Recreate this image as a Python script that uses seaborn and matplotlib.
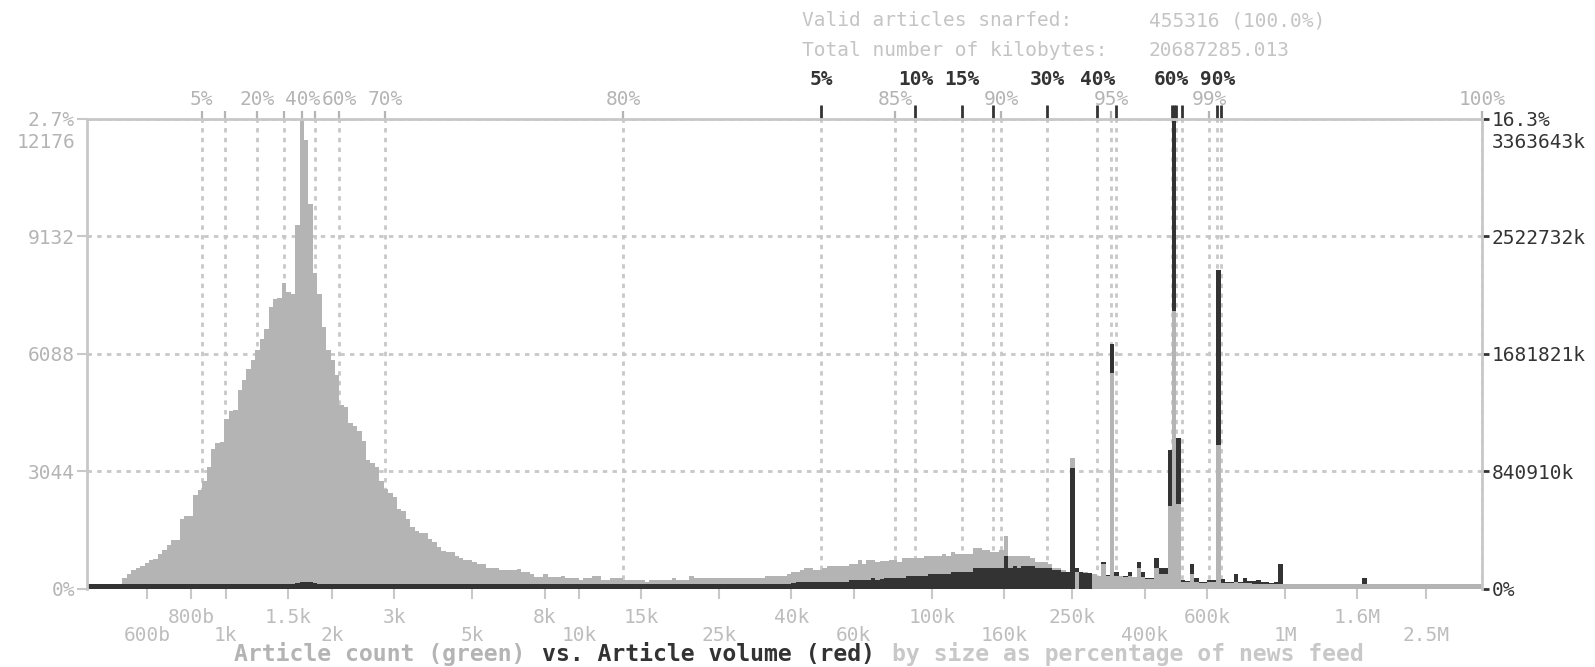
import numpy as np
import pandas as pd
import matplotlib
matplotlib.use("Agg")
import matplotlib.pyplot as plt
import matplotlib.transforms as mtransforms
from matplotlib.ticker import NullLocator
import seaborn as sns

# ---------------- data ----------------
SIZE_MIN = 405          # bytes, lower edge of first size bin
SIZE_MAX = 3610000      # bytes, upper edge of last size bin (largest article)
COUNT_MAX = 12176       # articles in the fullest bin (2.7%)
VOLUME_MAX_KB = 3363643 # kilobytes in the fullest bin (16.3%)
TOTAL_ARTICLES = "455316 (100.0%)"
TOTAL_KB = "20687285.013"

COUNT_TICKS = [0, 3044, 6088, 9132, 12176]
COUNT_TICK_LABELS = ['0%', '3044', '6088', '9132', '2.7%']
VOLUME_TICKS = [0, 840910, 1681821, 2522732, 3363643]
VOLUME_TICK_LABELS = ['0%', '840910k', '1681821k', '2522732k', '16.3%']

X_TICKS = [600, 800, 1000, 1500, 2000, 3000, 5000, 8000, 10000, 15000, 25000,
           40000, 60000, 100000, 160000, 250000, 400000, 600000, 1000000,
           1600000, 2500000]
X_TICK_LABELS = ['600b', '800b', '1k', '1.5k', '2k', '3k', '5k', '8k', '10k',
                 '15k', '25k', '40k', '60k', '100k', '160k', '250k', '400k',
                 '600k', '1M', '1.6M', '2.5M']

# percentiles of article count (grey) - size in bytes
COUNT_PCT_SIZES = [855, 998, 1229, 1460, 1647, 1795, 2100, 2835, 13350, 78780,
                   157200, 321600, 610200, 3610000]
COUNT_PCT_LABELS = ['5%', '', '20%', '', '40%', '', '60%', '70%', '80%', '85%',
                    '90%', '95%', '99%', '100%']
# percentiles of article volume (dark) - size in bytes
VOLUME_PCT_SIZES = [48640, 89770, 121450, 149200, 212200, 293900, 331500,
                    477500, 484600, 490000, 509500, 642700, 657200]
VOLUME_PCT_LABELS = ['5%', '10%', '15%', '', '30%', '40%', '', '60%', '', '',
                     '', '90%', '']

# article count per size bin
GREY = [
    0, 0, 0, 0, 0, 0, 0, 0, 290, 380,
    480, 540, 590, 660, 740, 780, 900, 1000, 1120, 1260,
    1250, 1800, 1880, 1890, 2420, 2560, 2800, 3160, 3620, 3780,
    3790, 4400, 4610, 4620, 5160, 5420, 5700, 5940, 6200, 6480,
    6740, 7310, 7520, 7530, 7930, 7680, 7640, 9440, 12176, 11630,
    9960, 8190, 7640, 6790, 6180, 5940, 5540, 4760, 4700, 4290,
    4210, 4080, 3820, 3340, 3250, 3150, 2800, 2580, 2470, 2370,
    2060, 2010, 1800, 1590, 1500, 1450, 1440, 1280, 1220, 1090,
    990, 950, 950, 850, 790, 745, 745, 700, 640, 640,
    540, 540, 535, 485, 485, 485, 480, 500, 425, 425,
    375, 295, 295, 375, 295, 295, 295, 330, 276, 276,
    276, 224, 276, 276, 330, 330, 224, 224, 276, 276,
    276, 224, 224, 224, 224, 224, 172, 224, 224, 224,
    224, 224, 276, 224, 224, 224, 330, 276, 276, 276,
    276, 276, 276, 276, 276, 276, 276, 276, 276, 276,
    276, 276, 276, 330, 330, 330, 320, 330, 380, 435,
    435, 485, 540, 540, 485, 485, 540, 590, 590, 590,
    590, 590, 640, 640, 745, 640, 745, 745, 695, 710,
    710, 745, 745, 695, 800, 800, 800, 800, 800, 850,
    850, 850, 850, 900, 850, 955, 900, 900, 900, 900,
    1060, 1060, 1005, 1005, 955, 955, 1005, 1370, 850, 850,
    850, 850, 850, 800, 695, 695, 695, 640, 540, 540,
    485, 435, 3400, 435, 435, 420, 400, 380, 330, 640,
    330, 5590, 330, 320, 310, 330, 300, 540, 300, 260,
    260, 540, 380, 380, 2150, 7210, 2200, 180, 180, 380,
    170, 140, 140, 170, 170, 3720, 140, 140, 140, 170,
    140, 140, 140, 120, 120, 120, 110, 110, 110, 120,
    90, 70, 60, 75, 70, 55, 70, 80, 65, 70,
    60, 70, 75, 60, 70, 65, 70, 80, 100, 60,
    70, 65, 75, 70, 60, 70, 70, 65, 60, 70,
    75, 70, 60, 65, 70, 70, 60, 75, 70, 65,
    60, 70, 70, 65, 60,
]

# article volume (kilobytes) per size bin
DARK_KB = [
    0, 0, 0, 0, 0, 0, 0, 0, 400, 600,
    800, 1000, 1200, 1400, 1700, 1900, 2300, 2700, 3100, 3600,
    3700, 5000, 5500, 6000, 7500, 8500, 9500, 11000, 13000, 14000,
    15000, 17000, 18500, 19500, 22000, 23500, 25000, 26500, 28000, 29500,
    30500, 31000, 31500, 32000, 32500, 32500, 33000, 40000, 48000, 48000,
    46000, 40000, 32000, 31000, 30000, 29500, 29000, 27000, 27000, 26000,
    26000, 25500, 25000, 23000, 23000, 22500, 21000, 20000, 19500, 19500,
    17500, 17500, 16000, 15000, 14500, 14500, 14500, 13500, 13000, 12000,
    11500, 11500, 11500, 10500, 10000, 10000, 10000, 10000, 9500, 9500,
    8500, 8500, 8500, 8000, 8000, 8500, 8500, 9000, 8000, 8000,
    7500, 6500, 6500, 8000, 7000, 7000, 7000, 8000, 7000, 7000,
    7000, 6000, 7500, 7500, 9000, 9500, 6500, 6500, 8500, 8500,
    9000, 7500, 7500, 7500, 8000, 8000, 6000, 9000, 9000, 9500,
    9500, 10000, 13000, 10500, 11000, 11000, 17000, 14500, 15000, 15500,
    16000, 16500, 17000, 17500, 18000, 18500, 19000, 19500, 20000, 21000,
    22000, 23000, 24000, 27000, 28000, 29000, 30000, 31000, 32000, 38000,
    48000, 48000, 48000, 48000, 48000, 48000, 48000, 48000, 48000, 48000,
    48000, 48000, 62300, 62300, 62300, 62300, 62300, 76600, 62300, 70000,
    76600, 76600, 76600, 76600, 76600, 90900, 90900, 90900, 90900, 90900,
    105300, 105300, 105300, 105300, 105300, 119600, 119600, 119600, 119600, 119600,
    148200, 148200, 148200, 148200, 148200, 148200, 148200, 234200, 148200, 162600,
    148200, 162600, 162600, 162600, 148200, 148200, 148200, 148200, 133900, 133900,
    119600, 119600, 864300, 148200, 119600, 115000, 110000, 106000, 93100, 189000,
    96700, 1752000, 119600, 91000, 91000, 119600, 86000, 191200, 119600, 76600,
    76600, 219800, 148200, 148200, 993000, 3363643, 1079000, 62300, 57300, 176900,
    76600, 45800, 45800, 62300, 62300, 2284000, 67300, 46500, 46500, 105300,
    46500, 76600, 57300, 57300, 64400, 50100, 46500, 43000, 50100, 176900,
    35800, 25000, 22000, 27000, 25000, 20000, 25000, 30000, 24000, 25000,
    22000, 25000, 28000, 22000, 25000, 24000, 25000, 30000, 74500, 22000,
    25000, 24000, 28000, 25000, 22000, 25000, 26000, 24000, 22000, 25000,
    28000, 25000, 22000, 24000, 25000, 26000, 22000, 28000, 25000, 24000,
    22000, 25000, 26000, 24000, 22000,
]

# ---------------- style ----------------
GREY_C = '#b4b4b4'
DARK_C = '#333333'
AXIS_C = '#c8c8c8'
GRID_C = '#c8c8c8'
LEFT_LBL_C = '#b4b4b4'
BOTTOM_LBL_C = '#bdbdbd'
HEADER_C = '#c4c4c4'

sns.set_theme(style="white")
plt.rcParams['font.family'] = ['DejaVu Sans Mono', 'DejaVu Sans']

W_PX, H_PX = 1595, 667
fig = plt.figure(figsize=(W_PX / 100, H_PX / 100), dpi=100)

def fx(px):
    return px / W_PX

def fy(py):
    return 1 - py / H_PX

AX_L, AX_R, AX_T, AX_B = 87, 1482, 119, 588.7
ax = fig.add_axes([fx(AX_L), fy(AX_B), fx(AX_R) - fx(AX_L), fy(AX_T) - fy(AX_B)])
ax2 = ax.twinx()
ax3 = ax.twinx()
AX_HPX = AX_B - AX_T

# ---------------- bars ----------------
n = len(GREY)
log_range = (np.log10(SIZE_MIN), np.log10(SIZE_MAX))
edges = np.logspace(log_range[0], log_range[1], n + 1)
centers = np.sqrt(edges[:-1] * edges[1:])
grey = np.asarray(GREY, float)
dark = np.asarray(DARK_KB, float)

# per bin: the taller bar (relative to its own axis) is drawn behind the shorter one
grey_front = (grey / COUNT_MAX) < (dark / VOLUME_MAX_KB)
floor = 0.01  # minimum bar height, fraction of axis height
g_h = np.maximum(grey, floor * COUNT_MAX)
d_h = np.maximum(dark, floor * VOLUME_MAX_KB)

df = pd.DataFrame({
    'size': centers,
    'grey_back': np.where(grey_front, 0.0, g_h),
    'grey_front': np.where(grey_front, g_h, 0.0),
    'dark': d_h,
})

common = dict(bins=n, binrange=log_range, log_scale=True, element='bars', fill=True,
              linewidth=0, alpha=1, stat='count', antialiased=False)
sns.histplot(data=df, x='size', weights='grey_back', ax=ax, color=GREY_C, **common)
sns.histplot(data=df, x='size', weights='dark', ax=ax2, color=DARK_C, **common)
sns.histplot(data=df, x='size', weights='grey_front', ax=ax3, color=GREY_C, **common)

for a in (ax, ax2, ax3):
    a.set_xlim(SIZE_MIN, SIZE_MAX)
    a.set_xlabel('')
    a.set_ylabel('')
ax.set_ylim(0, COUNT_MAX)
ax3.set_ylim(0, COUNT_MAX)
ax2.set_ylim(0, VOLUME_MAX_KB)

# ---------------- grid ----------------
ax.set_axisbelow(True)
dash = (0, (1.6, 1.9))
ax.set_yticks(COUNT_TICKS, COUNT_TICK_LABELS)
ax.grid(axis='y', color=GRID_C, linestyle=dash, linewidth=2)
ax.grid(axis='x', visible=False)
for s in COUNT_PCT_SIZES + VOLUME_PCT_SIZES:
    ax.axvline(s, color=GRID_C, linestyle=dash, linewidth=2, zorder=0.4)

# ---------------- axes / ticks ----------------
for a in (ax, ax2):
    for sp in a.spines.values():
        sp.set_visible(False)
for name, sp in ax3.spines.items():
    sp.set_visible(name != 'bottom')
    sp.set_color(AXIS_C)
    sp.set_linewidth(2)
ax3.yaxis.set_visible(False)

ax.tick_params(axis='y', which='both', left=True, right=False, length=7.2, width=1.5,
               color=AXIS_C, labelcolor=LEFT_LBL_C, labelsize=14, pad=1.5)
ax.set_xticks(X_TICKS, [('' if i % 2 else '\n') + lbl for i, lbl in enumerate(X_TICK_LABELS)])
ax.xaxis.set_minor_locator(NullLocator())
ax.tick_params(axis='x', which='major', bottom=True, length=7.2, width=1.5,
               color=AXIS_C, labelcolor=BOTTOM_LBL_C, labelsize=14, pad=6.5)
for lbl in ax.get_xticklabels():
    lbl.set_linespacing(0.92)

ax2.set_yticks(VOLUME_TICKS, VOLUME_TICK_LABELS)
ax2.tick_params(axis='y', right=True, left=False, length=5, width=2,
                color=DARK_C, labelcolor=DARK_C, labelsize=14, pad=2)

# second labels under the top tick labels
fig.text(fx(75), fy(141), str(COUNT_MAX), ha='right', va='center_baseline',
         color=LEFT_LBL_C, fontsize=14)
fig.text(fx(1491.5), fy(141), f'{VOLUME_MAX_KB}k', ha='left', va='center_baseline',
         color=DARK_C, fontsize=14)

# ---------------- percentile markers on top ----------------
top_tr = mtransforms.blended_transform_factory(ax.transData, ax.transAxes)
for s, lbl in zip(COUNT_PCT_SIZES, COUNT_PCT_LABELS):
    ax3.plot([s, s], [1.0, 1.0 + 7.5 / AX_HPX], transform=top_tr, color=GREY_C,
             lw=1.6, clip_on=False, solid_capstyle='butt')
    if lbl:
        ax3.text(s, 1.0 + (AX_T - 105) / AX_HPX, lbl, transform=top_tr,
                 ha='center', va='baseline', color=GREY_C, fontsize=14)
for s, lbl in zip(VOLUME_PCT_SIZES, VOLUME_PCT_LABELS):
    ax3.plot([s, s], [1.0 - 1 / AX_HPX, 1.0 + 13.5 / AX_HPX], transform=top_tr,
             color=DARK_C, lw=2, clip_on=False, solid_capstyle='butt')
    if lbl:
        ax3.text(s, 1.0 + (AX_T - 85) / AX_HPX, lbl, transform=top_tr,
                 ha='center', va='baseline', color=DARK_C, fontsize=14,
                 fontweight='bold')

# ---------------- header and title ----------------
fig.text(fx(801.5), fy(26.5), 'Valid articles snarfed:', ha='left', va='baseline',
         color=HEADER_C, fontsize=14)
fig.text(fx(1149), fy(26.5), TOTAL_ARTICLES, ha='left', va='baseline',
         color=HEADER_C, fontsize=14)
fig.text(fx(801.5), fy(56.5), 'Total number of kilobytes:', ha='left', va='baseline',
         color=HEADER_C, fontsize=14)
fig.text(fx(1149), fy(56.5), TOTAL_KB, ha='left', va='baseline',
         color=HEADER_C, fontsize=14)

title_parts = [('Article count (green) ', GREY_C),
               ('vs. Article volume (red) ', DARK_C),
               ('by size as percentage of news feed', '#c8c8c8')]
x0 = 234
char_w = 14.0
for txt, col in title_parts:
    fig.text(fx(x0), fy(654.5), txt, ha='left', va='center', color=col,
             fontsize=16.7, fontweight='bold')
    x0 += len(txt) * char_w

fig.savefig('out.png', dpi=100)
